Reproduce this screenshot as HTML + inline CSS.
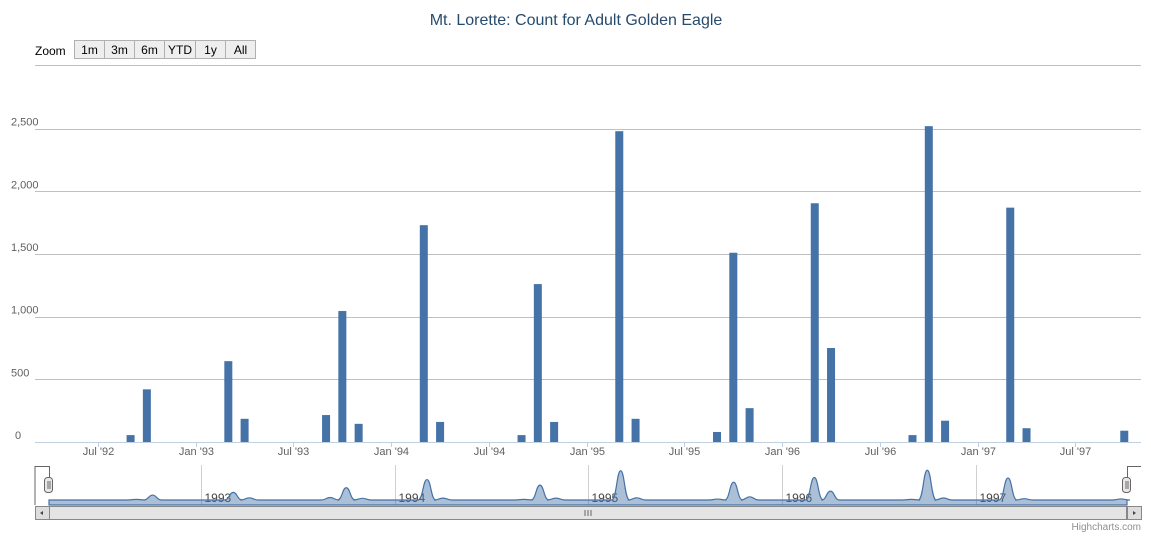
<!DOCTYPE html>
<html><head><meta charset="utf-8"><style>
body{margin:0;background:#fff;font-family:"Liberation Sans",sans-serif}
svg text{font-family:"Liberation Sans",sans-serif}
</style></head><body>
<svg id="c" width="1151" height="535" xmlns="http://www.w3.org/2000/svg">
<text x="576" y="25" text-anchor="middle" font-size="16" fill="#274b6d">Mt. Lorette: Count for Adult Golden Eagle</text>
<text x="35" y="55" font-size="12" fill="#000">Zoom</text>
<g id="btns"></g>
<line x1="35" x2="1141" y1="65.5" y2="65.5" stroke="#c0c0c0"/>
<g id="grid"></g><g id="bars"></g><g id="xax"></g><g id="nav"></g>
<text x="1141" y="530" text-anchor="end" font-size="10" fill="#909090">Highcharts.com</text>
</svg>
<script>
const months=["1992-09","1992-10","1993-03","1993-04","1993-09","1993-10","1993-11","1994-03","1994-04","1994-09","1994-10","1994-11","1995-03","1995-04","1995-09","1995-10","1995-11","1996-03","1996-04","1996-09","1996-10","1996-11","1997-03","1997-04","1997-10"];
const counts=[55,420,645,185,215,1045,145,1730,160,55,1260,160,2480,185,80,1510,270,1905,750,55,2520,170,1870,110,90];
const yTicks=[0,500,1000,1500,2000,2500];
const yTickLabels=["0","500","1,000","1,500","2,000","2,500"];
const xTicks=["1992-07","1993-01","1993-07","1994-01","1994-07","1995-01","1995-07","1996-01","1996-07","1997-01","1997-07"];
const xTickLabels=["Jul '92","Jan '93","Jul '93","Jan '94","Jul '94","Jan '95","Jul '95","Jan '96","Jul '96","Jan '97","Jul '97"];
const navYears=["1993","1994","1995","1996","1997"];
const ranges=["1m","3m","6m","YTD","1y","All"];
const NS="http://www.w3.org/2000/svg";
function mk(t,a,p){const e=document.createElementNS(NS,t);for(const k in a)e.setAttribute(k,a[k]);p.appendChild(e);return e;}
function mi(s){const[y,m]=s.split("-").map(Number);return (y-1992)*12+(m-7);}
const x=s=>98+mi(s)*16.29;
const y=v=>442-v*0.12533;
const nx=s=>201+(mi(s)-6)*16.14;
const ny=v=>500-v*0.0118;
// buttons
const bg=document.getElementById("btns");let bx=74;
ranges.forEach((r,i)=>{const w=r==="YTD"?31:30;
const b=mk("rect",{x:bx+.5,y:40.5,width:w,height:18,fill:"#eeeeee",stroke:"#b0b0b0"},bg);


const t=mk("text",{x:bx+w/2+.5,y:54,"text-anchor":"middle","font-size":12,fill:"#000"},bg);t.textContent=r;


bx+=w;});
// grid
const g=document.getElementById("grid");
yTicks.forEach((v,i)=>{
 if(v>0){const l=mk("line",{x1:35,x2:1141,y1:Math.round(y(v))+.5,y2:Math.round(y(v))+.5,stroke:"#c0c0c0"},g);
 }
 const t=mk("text",{x:v===0?15:11,y:y(v)-3,"font-size":11,fill:"#606060","text-anchor":"start"},g);t.textContent=yTickLabels[i];
 });
const ax=mk("line",{x1:35,x2:1141,y1:442.5,y2:442.5,stroke:"#c0d0e0"},g);

// bars
const bgp=document.getElementById("bars");
months.forEach((m,i)=>{const r=mk("rect",{x:x(m)-4,y:y(counts[i]),width:8,height:442-y(counts[i]),fill:"#4572a7"},bgp);
});
// x axis
const xa=document.getElementById("xax");
xTicks.forEach((m,i)=>{const X=Math.round(x(m))+.5;mk("line",{x1:X,x2:X,y1:442,y2:447,stroke:"#c0d0e0"},xa);
const t=mk("text",{x:X,y:455,"text-anchor":"middle","font-size":11,fill:"#606060"},xa);t.textContent=xTickLabels[i];
});
// navigator
const nv=document.getElementById("nav");
navYears.forEach(yr=>{const X=Math.round(nx(yr+"-01"))+.5;mk("line",{x1:X,x2:X,y1:465,y2:505,stroke:"#d0d0d0"},nv);
const t=mk("text",{x:X+3,y:502,"font-size":12,fill:"#444"},nv);t.textContent=yr;
});
let d="M49,505 L49,"+ny(0)+" ";
months.forEach((m,i)=>{const X=nx(m),Y=ny(counts[i]);d+=`L${X-9},${ny(0)} C${X-4},${ny(0)} ${X-4},${Y} ${X},${Y} C${X+4},${Y} ${X+4},${ny(0)} ${X+9},${ny(0)} `;});
d+="L1127,"+ny(0)+" L1127,505 Z";
const ar=mk("path",{d:d,fill:"rgba(69,114,167,0.45)",stroke:"#4572a7","stroke-width":1.2},nv);

mk("path",{d:"M35,505 V466.5 H49.5 V480 M1127.5,480 V466.5 H1141",fill:"none",stroke:"#666"},nv);
[49,1127].forEach((hx,i)=>{const h=mk("rect",{x:hx-4.5,y:477.5,width:8,height:15,rx:3,fill:"#ebe7e8",stroke:"#666"},nv);

mk("line",{x1:hx-1,x2:hx-1,y1:481,y2:489,stroke:"#666"},nv);mk("line",{x1:hx+1,x2:hx+1,y1:481,y2:489,stroke:"#666"},nv);});
const sb=mk("rect",{x:35.5,y:506.5,width:1105,height:13,fill:"#eaeaea",stroke:"#bbb"},nv);

const th=mk("rect",{x:49.5,y:506.5,width:1077,height:13,fill:"#e4e4e4",stroke:"#888"},nv);

[585,588,591].forEach(v=>mk("line",{x1:v,x2:v,y1:510,y2:516,stroke:"#666"},nv));
const lb=mk("rect",{x:35.5,y:506.5,width:14,height:13,fill:"#ddd",stroke:"#888"},nv);

mk("path",{d:"M43,511 L40,513 L43,515 Z",fill:"#444"},nv);
const rb=mk("rect",{x:1127.5,y:506.5,width:14,height:13,fill:"#ddd",stroke:"#888"},nv);

mk("path",{d:"M1133,511 L1136,513 L1133,515 Z",fill:"#444"},nv);
</script>
</body></html>
